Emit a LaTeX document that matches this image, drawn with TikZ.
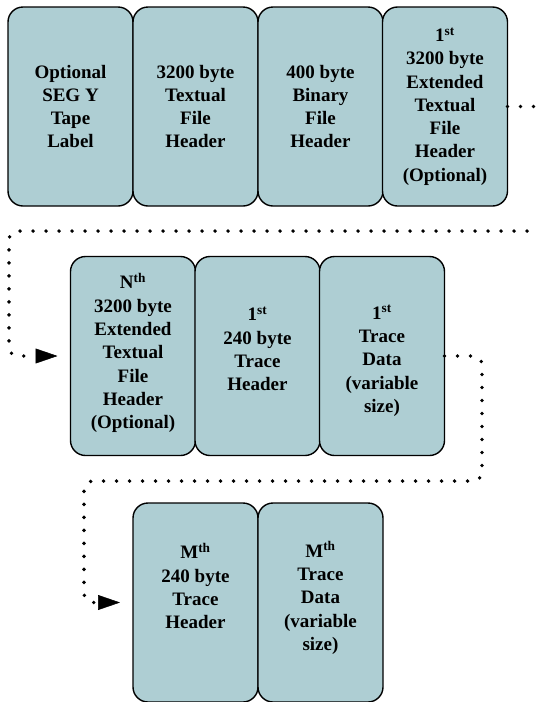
\documentclass[tikz,border=0pt]{standalone}
\usepackage{fontspec}
\setmainfont{Liberation Serif}
\usetikzlibrary{arrows.meta}

\definecolor{boxfill}{RGB}{174,206,211}

\tikzset{
  block/.style={draw=black, line width=1.4pt, fill=boxfill, rounded corners=15pt,
    minimum width=125pt, minimum height=199pt, inner sep=0pt, outer sep=0pt},
  label/.style={align=center, inner sep=0pt,
    font=\fontsize{19}{23.3}\selectfont\bfseries},
  flow/.style={line width=3.8pt, line cap=round, dash pattern=on 0pt off 13pt,
    rounded corners=9pt},
  tip/.style={-{Triangle[length=22pt,width=15pt,line width=0.5pt]}, shorten >=13pt}
}

\begin{document}
\begin{tikzpicture}[x=1pt,y=-1pt]
\useasboundingbox (0,0) rectangle (538,702);
\clip (0,0) rectangle (538,702);

% first row: label and file headers
\node[block] (b1) at (70.5,106.5) {};
\node[block] (b2) at (195.5,106.5) {};
\node[block] (b3) at (320.5,106.5) {};
\node[block] (b4) at (445,106.5) {};
\node[label] (t1) at (b1) {Optional\\SEG Y\\Tape\\Label};
\node[label] (t2) at (b2) {3200 byte\\Textual\\File\\Header};
\node[label] (t3) at (b3) {400 byte\\Binary\\File\\Header};
\node[label] (t4) at (b4) {1\textsuperscript{st}\\3200 byte\\Extended\\Textual\\File\\Header\\(Optional)};

% second row: last extended header and first trace
\node[block] (n1) at (133,356) {};
\node[block] (n2) at (257.5,356) {};
\node[block] (n3) at (382,356) {};
\node[label] (s1) at (133,353) {N\textsuperscript{th}\\3200 byte\\Extended\\Textual\\File\\Header\\(Optional)};
\node[label] (s2) at (257.5,349) {1\textsuperscript{st}\\240 byte\\Trace\\Header};
\node[label] (s3) at (382,361) {1\textsuperscript{st}\\Trace\\Data\\(variable\\size)};

% third row: last trace
\node[block] (m1) at (195.5,602.5) {};
\node[block] (m2) at (320.5,602.5) {};
\node[label] (u1) at (195.5,586) {M\textsuperscript{th}\\240 byte\\Trace\\Header};
\node[label] (u2) at (320.5,598) {M\textsuperscript{th}\\Trace\\Data\\(variable\\size)};

% dotted continuation lines
\draw[flow,tip] (b4.east) -- (550,106.5) -- (550,231) -- (9,231) -- (9,356) -- (n1.west);
\draw[flow,tip] (n3.east) -- (482,356) -- (482,481) -- (84,481) -- (84,602.5) -- (m1.west);
\end{tikzpicture}
\end{document}
